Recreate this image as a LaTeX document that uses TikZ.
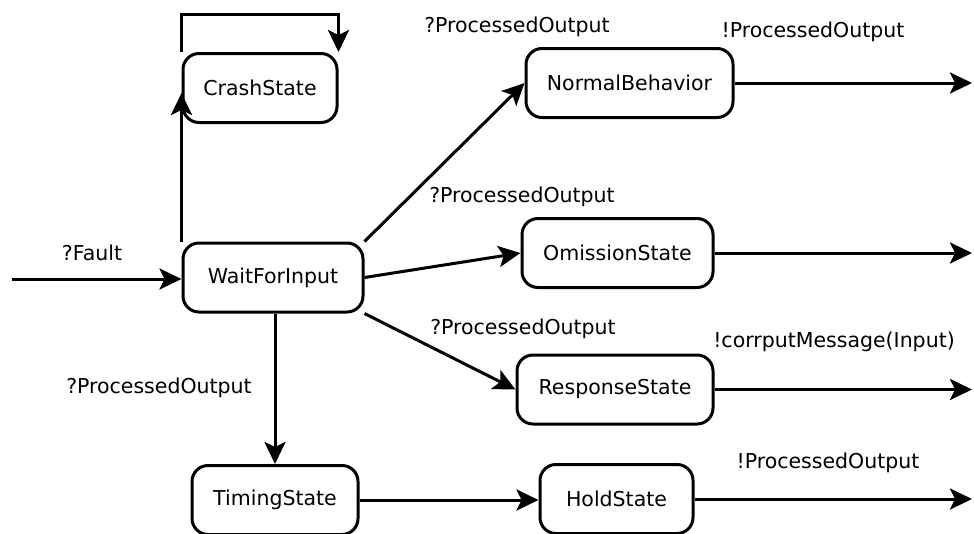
\documentclass[tikz,border=0pt]{standalone}
\usepackage{fontspec}
\setmainfont{DejaVu Sans}
\usetikzlibrary{arrows.meta}

\tikzset{
    state/.style={draw, rounded corners=16pt, line width=3pt, minimum height=69pt,
        font=\fontsize{20.5}{24}\selectfont},
    lbl/.style={inner sep=0pt, font=\fontsize{20.5}{24}\selectfont},
    arr/.style={line width=3pt, -{Stealth[length=22pt,width=21pt,inset=5pt]}}
}

\begin{document}
\begin{tikzpicture}[x=1pt, y=-1pt]
    \useasboundingbox (0,0) rectangle (974,533);
    \def\xe{972}

    % states
    \node[state, minimum width=154pt] (crash) at (260,88) {CrashState};
    \node[state, minimum width=180pt] (wait) at (273,277.5) {WaitForInput};
    \node[state, minimum width=207pt] (normal) at (629.5,83) {NormalBehavior};
    \node[state, minimum width=191pt] (omission) at (617.5,253) {OmissionState};
    \node[state, minimum width=196pt] (response) at (615,389.5) {ResponseState};
    \node[state, minimum width=166pt] (timing) at (275,500) {TimingState};
    \node[state, minimum width=153pt] (hold) at (616.5,499) {HoldState};

    % free ends
    \coordinate (in) at (12,279);
    \coordinate (o1) at (\xe,83);
    \coordinate (o2) at (\xe,253);
    \coordinate (o3) at (\xe,389.5);
    \coordinate (o4) at (\xe,499);

    % labels
    \node[lbl] (fault) at (92,253) {?Fault};
    \node[lbl] (qnormal) at (517,27) {?ProcessedOutput};
    \node[lbl] (xnormal) at (813,32) {!ProcessedOutput};
    \node[lbl] (qomission) at (522,197) {?ProcessedOutput};
    \node[lbl] (qresponse) at (523,329) {?ProcessedOutput};
    \node[lbl] (xresponse) at (834,342) {!corrputMessage(Input)};
    \node[lbl] (qtiming) at (159,388) {?ProcessedOutput};
    \node[lbl] (xhold) at (828,463) {!ProcessedOutput};

    \draw[arr] (in) -- (wait.west |- in);
    \draw[arr] (wait.north west) -- ([yshift=-5pt]crash.west);
    \draw[arr] (crash.north west) -- ++(0,-38) -| (crash.north east);
    \draw[arr] (wait.north east) -- (normal.west);
    \draw[arr] (wait.east) -- (omission.west);
    \draw[arr] (wait.south east) -- (response.west);
    \draw[arr] (wait.south -| timing.north) -- (timing.north);
    \draw[arr] (timing.east) -- (timing.east -| hold.west);
    %\draw[arr] (hold.east) -- (o4);

    \draw[arr] (normal.east) -- (o1);
    \draw[arr] (omission.east) -- (o2);
    \draw[arr] (response.east) -- (o3);
    \draw[arr] (hold.east) -- (o4);
\end{tikzpicture}
\end{document}
